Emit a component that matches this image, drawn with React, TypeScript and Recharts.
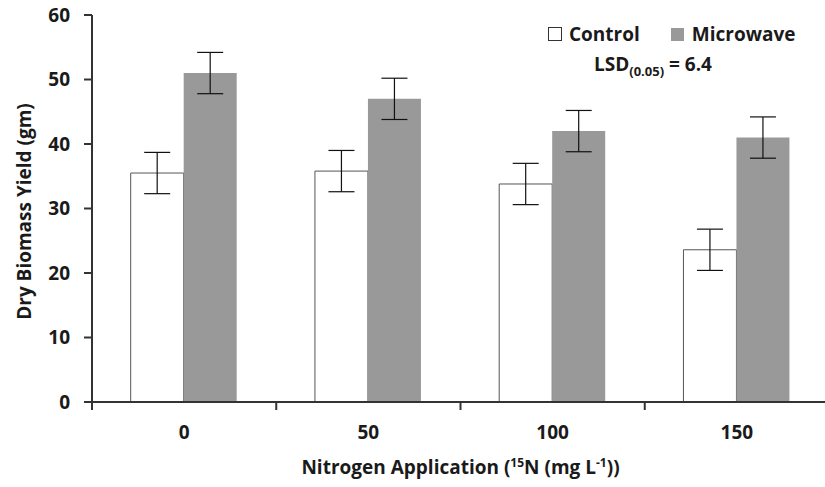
import { BarChart, Bar, XAxis, YAxis, ErrorBar, Legend } from 'recharts';

const categories = ['0', '50', '100', '150'];
const control = [35.5, 35.8, 33.8, 23.6];
const microwave = [51.0, 47.0, 42.0, 41.0];
const controlErr = [3.2, 3.2, 3.2, 3.2];
const microwaveErr = [3.2, 3.2, 3.2, 3.2];
const yTicks = [0, 10, 20, 30, 40, 50, 60];

const data = categories.map((n, i) => ({
  n,
  control: control[i],
  microwave: microwave[i],
  controlErr: controlErr[i],
  microwaveErr: microwaveErr[i],
}));

const W = 830;
const H = 487;
const YAXIS_W = 92;
const RIGHT = 1;
const BAND = (W - YAXIS_W - RIGHT) / categories.length;
const FONT = '"Open Sans", sans-serif';
const FS = 19;
const INK = '#1a1a1a';
const AXIS = '#333';

function XTick(props: any) {
  const { x, y, payload } = props;
  const axisY = y - 8;
  const left = x - BAND / 2;
  return (
    <g>
      <line x1={left} y1={axisY} x2={left} y2={axisY + 8} stroke={AXIS} strokeWidth={2} />
      <text x={x} y={axisY + 37} textAnchor="middle" fontFamily={FONT} fontWeight="bold" fontSize={FS} fill={INK}>
        {payload.value}
      </text>
    </g>
  );
}

function XLabel(props: any) {
  const { viewBox } = props;
  const cx = viewBox.x + viewBox.width / 2;
  return (
    <text x={cx} y={474} textAnchor="middle" fontFamily={FONT} fontWeight="bold" fontSize={FS} fill={INK}>
      Nitrogen Application (
      <tspan fontSize={12} dy={-7}>15</tspan>
      <tspan dy={7}>N (mg L</tspan>
      <tspan fontSize={12} dy={-7}>-1</tspan>
      <tspan dy={7}>))</tspan>
    </text>
  );
}

function YLabel(props: any) {
  const { viewBox } = props;
  const cy = viewBox.y + viewBox.height / 2 + 3;
  return (
    <text
      x={31}
      y={cy}
      transform={`rotate(-90, 31, ${cy})`}
      textAnchor="middle"
      fontFamily={FONT}
      fontWeight="bold"
      fontSize={FS}
      fill={INK}
    >
      Dry Biomass Yield (gm)
    </text>
  );
}

function LegendBox() {
  const row: React.CSSProperties = { display: 'flex', alignItems: 'center', whiteSpace: 'nowrap' };
  return (
    <div style={{ fontFamily: FONT, fontWeight: 'bold', fontSize: FS, color: INK, lineHeight: '22px' }}>
      <div style={row}>
        <span style={{ display: 'inline-block', width: 12, height: 12, border: '1px solid #333', background: '#fff', marginRight: 7 }} />
        <span>Control</span>
        <span style={{ display: 'inline-block', width: 13, height: 13, background: '#999', marginLeft: 31, marginRight: 8 }} />
        <span>Microwave</span>
      </div>
      <div style={{ marginTop: 8, marginLeft: 46, whiteSpace: 'nowrap' }}>
        LSD<sub style={{ fontSize: 13, verticalAlign: '-5px' }}>(0.05)</sub> = 6.4
      </div>
    </div>
  );
}

export default function App() {
  return (
    <div style={{ position: 'absolute', left: 0, top: 0, width: 825, height: H, overflow: 'hidden', background: '#fff' }}>
      <BarChart
        width={W}
        height={H}
        data={data}
        margin={{ top: 15, right: RIGHT, left: 0, bottom: 25 }}
        barCategoryGap="21%"
        barGap={0}
      >
        <XAxis
          dataKey="n"
          height={60}
          tickLine={false}
          tickSize={8}
          tickMargin={0}
          axisLine={{ stroke: AXIS, strokeWidth: 2 }}
          tick={<XTick />}
          interval={0}
          label={<XLabel />}
        />
        <YAxis
          width={YAXIS_W}
          domain={[0, 60]}
          ticks={yTicks}
          tickSize={8}
          tickMargin={14}
          axisLine={{ stroke: AXIS, strokeWidth: 2 }}
          tickLine={{ stroke: AXIS, strokeWidth: 2 }}
          tick={{ fontFamily: FONT, fontWeight: 'bold', fontSize: FS, fill: INK }}
          label={<YLabel />}
        />
        <Legend
          layout="horizontal"
          verticalAlign="middle"
          align="center"
          content={<LegendBox />}
          wrapperStyle={{ position: 'absolute', top: 23, left: 548, width: 280 }}
        />
        <Bar dataKey="control" name="Control" fill="#fff" stroke="#555" strokeWidth={1} isAnimationActive={false}>
          <ErrorBar dataKey="controlErr" width={13} stroke="#111" strokeWidth={1.2} />
        </Bar>
        <Bar dataKey="microwave" name="Microwave" fill="#999" isAnimationActive={false}>
          <ErrorBar dataKey="microwaveErr" width={13} stroke="#111" strokeWidth={1.2} />
        </Bar>
      </BarChart>
    </div>
  );
}
